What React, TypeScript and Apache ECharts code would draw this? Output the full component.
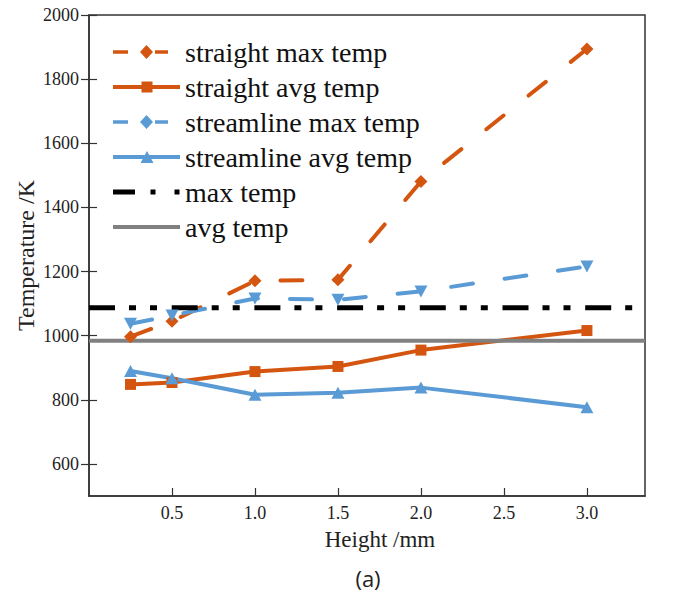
import React, { useEffect, useRef } from "react";
import * as echarts from "echarts";

// ---- data ----
const heights = [0.25, 0.5, 1.0, 1.5, 2.0, 3.0];
const straightMax = [997, 1045, 1171, 1174, 1481, 1894];
const straightAvg = [848, 854, 888, 904, 955, 1016];
const streamlineMax = [1037, 1063, 1116, 1112, 1138, 1216];
const streamlineAvg = [890, 867, 816, 822, 838, 777];
const maxTemp = 1087;
const avgTemp = 984;
const xRange = [0, 3.35];
const yRange = [500, 2000];
const xTicks = [0.5, 1.0, 1.5, 2.0, 2.5, 3.0];
const yTicks = [600, 800, 1000, 1200, 1400, 1600, 1800, 2000];
const seriesNames = [
  "straight max temp",
  "straight avg temp",
  "streamline max temp",
  "streamline avg temp",
  "max temp",
  "avg temp",
];

const ORANGE = "#D4550F";
const BLUE = "#5B9BD5";
const BLACK = "#000000";
const GRAY = "#808080";
const SERIF = "Liberation Serif";

const corners = "M0,0 h0.05 v0.05 h-0.05 z M66.95,13.95 h0.05 v0.05 h-0.05 z ";
const iconDashDiamond =
  "path://" + corners + "M0,5.25 h15 v3.5 h-15 z M27,7 L33.5,0 L40,7 L33.5,14 Z M42,5.25 h13 v3.5 h-13 z";
const iconLineSquare = "path://" + corners + "M0,5 h67 v4 h-67 z M28.5,1.5 h11 v11 h-11 z";
const iconLineTriangle = "path://" + corners + "M0,5 h67 v4 h-67 z M34,1 L40.5,13 L27.5,13 Z";
const iconDashDot = "path://" + corners + "M0,4.5 h22 v5 h-22 z M37.5,4.5 h5 v5 h-5 z M61.5,4.5 h5 v5 h-5 z";
const iconLine = "path://" + corners + "M0,5 h67 v4 h-67 z";
const legendIcons = [iconDashDiamond, iconLineSquare, iconDashDiamond, iconLineTriangle, iconDashDot, iconLine];

const pair = (ys: number[]) => heights.map((x, i) => [x, ys[i]]);
const hline = (v: number) => [
  [xRange[0], v],
  [xRange[1], v],
];

export default function App() {
  const ref = useRef<HTMLDivElement>(null);
  useEffect(() => {
    if (!ref.current) return;
    const chart = echarts.init(ref.current, undefined, { renderer: "svg" });
    const tickLabel = { fontFamily: SERIF, fontSize: 18, color: "#222" };
    const option: any = {
      animation: false,
      backgroundColor: "#fff",
      textStyle: { fontFamily: SERIF },
      grid: {
        left: 89,
        right: 31,
        top: 15,
        bottom: 98,
        show: true,
        borderColor: "#333",
        borderWidth: 1.5,
        backgroundColor: "transparent",
      },
      legend: {
        left: 108,
        top: 33,
        padding: 5,
        orient: "vertical",
        itemWidth: 67,
        itemHeight: 14,
        itemGap: 7,
        selectedMode: false,
        symbolRotate: 0,
        itemStyle: { borderWidth: 0 },
        textStyle: { fontFamily: SERIF, fontSize: 28, lineHeight: 28, color: "#111" },
        data: seriesNames.map((n, i) => ({ name: n, icon: legendIcons[i] })),
      },
      xAxis: {
        type: "value",
        min: xRange[0],
        max: xRange[1],
        name: "Height /mm",
        nameLocation: "middle",
        nameGap: 32,
        nameMoveOverlap: false,
        nameTextStyle: { fontFamily: SERIF, fontSize: 23, color: "#222", padding: [0, 0, 0, 26] },
        axisLine: { show: true, onZero: false, lineStyle: { color: "#333", width: 1.5 } },
        axisTick: { show: true, inside: true, length: 8, customValues: xTicks, lineStyle: { color: "#333", width: 1.2 } },
        axisLabel: { ...tickLabel, margin: 8, customValues: xTicks, formatter: (v: number) => v.toFixed(1) },
        splitLine: { show: false },
      },
      yAxis: [
        {
          type: "value",
          min: yRange[0],
          max: yRange[1],
          name: "Temperature /K",
          nameLocation: "middle",
          nameGap: 51,
          nameMoveOverlap: false,
          nameTextStyle: { fontFamily: SERIF, fontSize: 24, color: "#222" },
          axisLine: { show: true, onZero: false, lineStyle: { color: "#333", width: 1.5 } },
          axisTick: { show: true, inside: false, length: 8, customValues: yTicks, lineStyle: { color: "#333", width: 1.2 } },
          axisLabel: { ...tickLabel, margin: 10, customValues: yTicks, formatter: (v: number) => String(v) },
          splitLine: { show: false },
        },
        {
          type: "value",
          position: "left",
          min: yRange[0],
          max: yRange[1],
          axisLine: { show: false },
          axisTick: { show: true, inside: true, length: 8, customValues: yTicks, lineStyle: { color: "#333", width: 1.2 } },
          axisLabel: { show: false },
          splitLine: { show: false },
        },
      ],
      series: [
        {
          name: seriesNames[0],
          type: "line",
          data: pair(straightMax),
          symbol: "diamond",
          symbolSize: 13,
          lineStyle: { color: ORANGE, width: 4, type: [22, 32], cap: "round" },
          itemStyle: { color: ORANGE },
        },
        {
          name: seriesNames[1],
          type: "line",
          data: pair(straightAvg),
          symbol: "rect",
          symbolSize: 11,
          lineStyle: { color: ORANGE, width: 4 },
          itemStyle: { color: ORANGE },
        },
        {
          name: seriesNames[2],
          type: "line",
          data: pair(streamlineMax),
          symbol: "path://M0,0 L10,0 L5,9 Z",
          symbolSize: [13, 12],
          lineStyle: { color: BLUE, width: 4, type: [22, 32], cap: "round" },
          itemStyle: { color: BLUE },
        },
        {
          name: seriesNames[3],
          type: "line",
          data: pair(streamlineAvg),
          symbol: "triangle",
          symbolSize: [13, 12],
          lineStyle: { color: BLUE, width: 4 },
          itemStyle: { color: BLUE },
        },
        {
          name: seriesNames[4],
          type: "line",
          data: hline(maxTemp),
          showSymbol: false,
          symbol: "none",
          clip: false,
          lineStyle: { color: BLACK, width: 5, type: [26, 14, 7, 14, 7, 14.7], cap: "butt" },
          itemStyle: { color: BLACK },
        },
        {
          name: seriesNames[5],
          type: "line",
          data: hline(avgTemp),
          showSymbol: false,
          symbol: "none",
          clip: false,
          lineStyle: { color: GRAY, width: 4 },
          itemStyle: { color: GRAY },
        },
      ],
      graphic: [
        {
          type: "text",
          x: 368,
          y: 578,
          style: {
            text: "(a)",
            align: "center",
            verticalAlign: "middle",
            fontFamily: "Open Sans",
            fontSize: 22,
            fill: "#222",
          },
        },
      ],
    };
    chart.setOption(option);
    return () => chart.dispose();
  }, []);
  return (
    <div
      ref={ref}
      style={{ position: "fixed", left: 0, top: 0, width: 676, height: 594, background: "#fff" }}
    />
  );
}
